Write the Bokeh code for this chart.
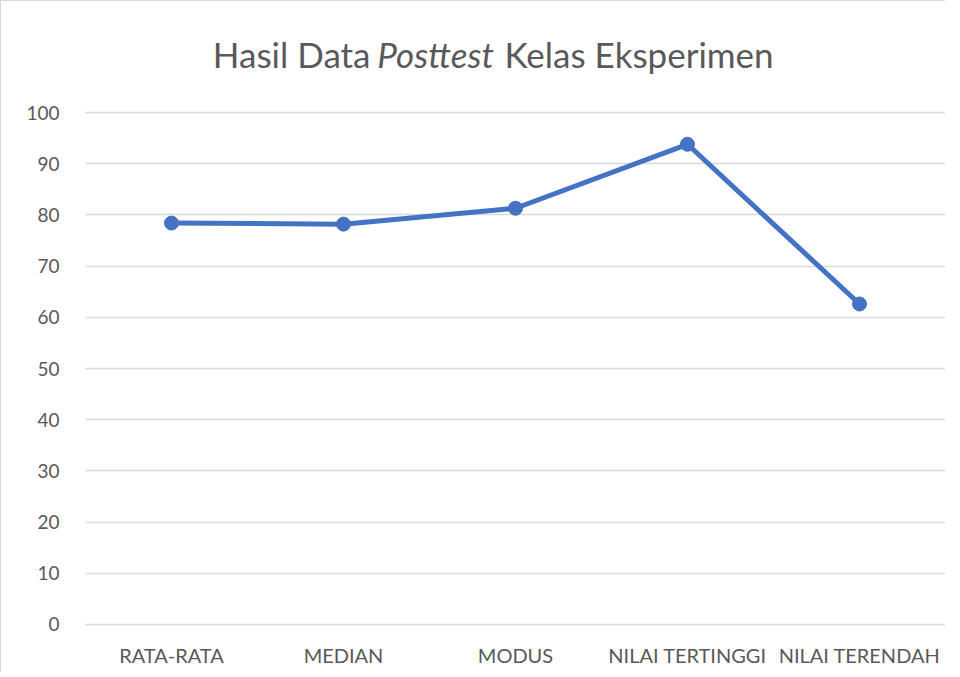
from bokeh.plotting import figure
from bokeh.models import Range1d, FactorRange, Label, FixedTicker
from bokeh.layouts import column
from bokeh.embed import file_html
from bokeh.resources import INLINE

categories = ["RATA-RATA", "MEDIAN", "MODUS", "NILAI TERTINGGI", "NILAI TERENDAH"]
values = [78.4, 78.2, 81.3, 93.8, 62.6]
y_ticks = [0, 10, 20, 30, 40, 50, 60, 70, 80, 90, 100]

FONT = "Lato"
TEXT = "#595959"
BLUE = "#4472C4"
W = 944
TH = 100

# title strip (frame is aligned with the chart frame by the column layout)
t = figure(width=W, height=TH, x_range=Range1d(84, 944), y_range=Range1d(0, TH),
           output_backend="svg", toolbar_location=None,
           x_axis_location=None, y_axis_location=None,
           min_border_left=0, min_border_right=0, min_border_top=0, min_border_bottom=0)
t.grid.visible = False
t.outline_line_color = None
TS = "35px"
TY = 48
t.add_layout(Label(x=369, y=TY, text="Hasil Data", text_align="right",
                   text_baseline="alphabetic", text_font=FONT, text_font_size=TS,
                   text_color=TEXT))
t.add_layout(Label(x=434, y=TY, text="Posttest", text_align="center",
                   text_baseline="alphabetic", text_font=FONT, text_font_style="italic",
                   text_font_size=TS, text_color=TEXT))
t.add_layout(Label(x=503, y=TY, text="Kelas Eksperimen", text_align="left",
                   text_baseline="alphabetic", text_font=FONT, text_font_size=TS,
                   text_color=TEXT))

p = figure(
    x_range=FactorRange(*categories, range_padding=0),
    y_range=Range1d(-0.4, 100.4),
    width=W, height=571,
    output_backend="svg", toolbar_location=None,
    min_border_left=84, min_border_right=0,
    min_border_top=9, min_border_bottom=46,
)
p.outline_line_color = None

p.line(categories, values, line_color=BLUE, line_width=5)
p.scatter(categories, values, size=14, fill_color=BLUE, line_color=BLUE)

p.xgrid.grid_line_color = None
p.ygrid.grid_line_color = "#d9d9d9"
p.ygrid.grid_line_width = 1.3

for ax in (p.xaxis, p.yaxis):
    ax.axis_line_color = None
    ax.major_tick_line_color = None
    ax.minor_tick_line_color = None
    ax.major_label_text_font = FONT
    ax.major_label_text_color = TEXT

p.xaxis.major_label_text_font_size = "20px"
p.yaxis.major_label_text_font_size = "19px"
p.yaxis.ticker = FixedTicker(ticks=y_ticks)
p.yaxis.major_label_standoff = 20
p.xaxis.major_label_standoff = 10

layout = column(t, p, spacing=0,
                styles={"border-left": "1px solid #d9d9d9", "border-top": "1px solid #d9d9d9"})
open("out.html", "w").write(file_html(layout, INLINE))
